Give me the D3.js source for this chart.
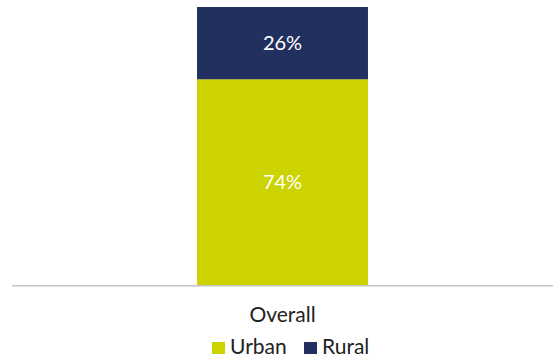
<!DOCTYPE html>
<html>
<head>
<meta charset="utf-8">
<script src="https://cdn.jsdelivr.net/npm/d3@7"></script>
<style>
  html, body { margin: 0; padding: 0; background: #fff; }
  svg { display: block; font-family: Lato, "Open Sans", sans-serif; }
</style>
</head>
<body>
<svg id="chart" width="553" height="360"></svg>
<script>
// Share of respondents by location
const categories = ["Overall"];
const seriesNames = ["Urban", "Rural"];
const urbanValues = [74];
const ruralValues = [26];
const colors = ["#ccd300", "#223060"];

const width = 553, height = 360;
const margin = { left: 12, right: 0, top: 7, bottom: 75 };

const svg = d3.select("#chart");

const rows = categories.map((c, i) => ({ category: c, Urban: urbanValues[i], Rural: ruralValues[i] }));
const stacked = d3.stack().keys(seriesNames)(rows);

const x = d3.scaleBand()
  .domain(categories)
  .range([margin.left, width - margin.right])
  .paddingInner(0.684)
  .paddingOuter(0.342);

const y = d3.scaleLinear()
  .domain([0, 100])
  .range([height - margin.bottom, margin.top]);

const color = d3.scaleOrdinal().domain(seriesNames).range(colors);

const layer = svg.append("g").selectAll("g")
  .data(stacked)
  .join("g")
  .attr("fill", d => color(d.key));

layer.selectAll("rect")
  .data(d => d.map(p => ({ key: d.key, p })))
  .join("rect")
  .attr("x", d => x(d.p.data.category))
  .attr("width", x.bandwidth())
  .attr("y", d => y(d.p[1]))
  .attr("height", d => y(d.p[0]) - y(d.p[1]));

// Value labels centred in each segment
layer.selectAll("text")
  .data(d => d.map(p => ({ key: d.key, p })))
  .join("text")
  .attr("x", d => x(d.p.data.category) + x.bandwidth() / 2)
  .attr("y", d => (y(d.p[0]) + y(d.p[1])) / 2)
  .attr("dy", "0.35em")
  .attr("text-anchor", "middle")
  .attr("fill", "#ffffff")
  .attr("font-size", 20)
  .text(d => (d.p[1] - d.p[0]) + "%");

// Category axis
const xAxis = svg.append("g")
  .attr("transform", `translate(0,${y(0)})`)
  .call(d3.axisBottom(x).tickSize(0).tickPadding(22));
xAxis.select(".domain").attr("stroke", "#c4c4c4").attr("stroke-width", 1.5).attr("d", `M${margin.left},0.75H${width}`);
xAxis.selectAll("text")
  .attr("font-family", "Lato, 'Open Sans', sans-serif")
  .attr("font-size", 21)
  .attr("fill", "#222");

// Legend
const legendItems = [
  { name: "Urban", x: 212 },
  { name: "Rural", x: 304 }
];
const legend = svg.append("g").attr("transform", "translate(0,342)");
const li = legend.selectAll("g").data(legendItems).join("g")
  .attr("transform", d => `translate(${d.x},0)`);
li.append("rect").attr("width", 13).attr("height", 12).attr("fill", d => color(d.name));
li.append("text")
  .attr("x", 18)
  .attr("y", 5)
  .attr("dy", "0.35em")
  .attr("font-size", 21)
  .attr("fill", "#222")
  .text(d => d.name);
</script>
</body>
</html>
